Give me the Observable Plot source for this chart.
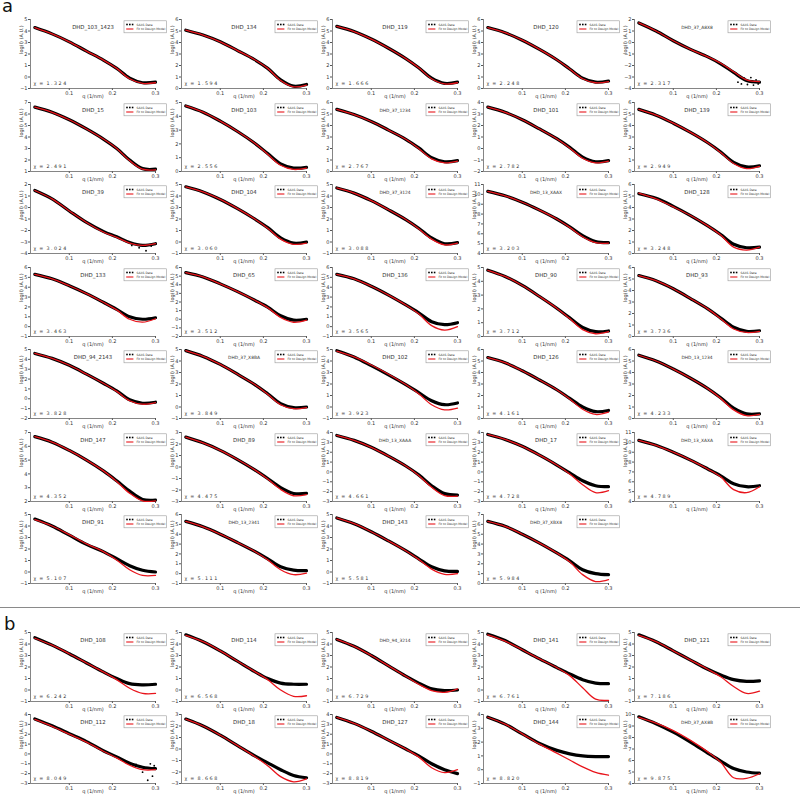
<!DOCTYPE html>
<html><head><meta charset="utf-8">
<script src="https://cdn.jsdelivr.net/npm/d3@7"></script>
<script src="https://cdn.jsdelivr.net/npm/@observablehq/plot@0.6"></script>
<style>
body{margin:0;background:#fff;font-family:"DejaVu Sans",sans-serif;}
#root{position:relative;width:800px;height:795px;overflow:hidden;background:#fff;}
.panel{position:absolute;}
.lbl{position:absolute;font-size:18px;color:#111;line-height:1;}
#sep{position:absolute;left:0;top:607px;width:800px;height:0;border-top:1.5px solid #8a8a8a;}
</style></head><body><div id="root"></div>
<script>
const qs = [0.02, 0.06, 0.1, 0.14, 0.18, 0.21, 0.24, 0.27, 0.3];
const names = [
"DHD_103_1423","DHD_134","DHD_119","DHD_120","DHD_37_A8X8",
"DHD_15","DHD_103","DHD_37_1234","DHD_101","DHD_139",
"DHD_39","DHD_104","DHD_37_3124","DHD_13_XAAX","DHD_128",
"DHD_133","DHD_65","DHD_136","DHD_90","DHD_93",
"DHD_94_2143","DHD_37_X8BA","DHD_102","DHD_126","DHD_13_1234",
"DHD_147","DHD_89","DHD_13_XAAA","DHD_17","DHD_13_XAXA",
"DHD_91","DHD_13_2341","DHD_143","DHD_37_XBX8",
"DHD_108","DHD_114","DHD_94_3214","DHD_141","DHD_121",
"DHD_112","DHD_18","DHD_127","DHD_144","DHD_37_AX8B"];
const smallTitles = ["DHD_37_A8X8","DHD_37_1234","DHD_37_3124","DHD_13_XAAX","DHD_37_X8BA","DHD_13_1234","DHD_13_XAAA","DHD_13_XAXA","DHD_13_2341","DHD_37_XBX8","DHD_94_3214","DHD_37_AX8B"];
const chis = ["1.324","1.594","1.666","2.248","2.317","2.491","2.556","2.767","2.782","2.949",
"3.024","3.060","3.088","3.203","3.248","3.463","3.512","3.565","3.712","3.736",
"3.828","3.849","3.923","4.161","4.233","4.352","4.475","4.661","4.728","4.789",
"5.107","5.111","5.581","5.984","6.242","6.568","6.729","6.761","7.186",
"8.049","8.668","8.819","8.820","9.875"];
const yMin = [-1,0,0,0,-4, 1,0,0,-2,0, -4,-1,-1,4,0, -1,-2,-1,0,0, -2,-1,-1,0,0, 2,-3,-3,-3,4, -1,-1,-1,0, -1,-1,-1,-1,-1, -3,-3,-3,-1,4];
const yMax = [5,6,6,6,2, 7,5,6,4,6, 2,5,5,11,6, 6,6,6,5,6, 5,5,5,6,6, 7,3,4,4,11, 5,6,5,7, 5,5,5,5,5, 4,3,4,4,10];
const saxs = [
[4.3,3.75,3.06,2.25,1.45,0.75,-0.1,-0.5,-0.45],
[5.07,4.65,4.06,3.3,2.5,1.75,0.75,0.2,0.35],
[5.4,4.95,4.3,3.5,2.6,1.8,0.9,0.45,0.55],
[5.3,4.85,4.2,3.4,2.5,1.7,0.9,0.55,0.65],
[1.7,1.0,0.15,-0.6,-1.25,-1.85,-2.6,-3.3,-3.45],
[6.6,6.15,5.5,4.7,3.8,3.0,2.0,1.25,1.2],
[4.75,4.3,3.65,2.9,2.05,1.3,0.55,0.25,0.3],
[5.4,4.95,4.35,3.6,2.8,2.05,1.2,0.85,0.95],
[3.6,3.15,2.5,1.7,0.85,0.1,-0.75,-1.15,-1.05],
[5.4,4.9,4.2,3.4,2.5,1.7,0.8,0.4,0.5],
[1.48,0.75,-0.3,-1.3,-2.1,-2.55,-3.05,-3.3,-3.15],
[4.8,4.35,3.7,2.9,2.0,1.25,0.35,-0.1,0.0],
[4.7,4.25,3.6,2.8,1.95,1.2,0.35,-0.15,-0.05],
[10.3,9.85,9.2,8.4,7.5,6.7,5.8,5.2,5.1],
[5.2,4.8,4.1,3.3,2.4,1.65,0.8,0.5,0.55],
[5.3,4.85,4.15,3.35,2.45,1.75,1.0,0.75,0.9],
[5.4,4.9,4.1,3.2,2.2,1.4,0.4,-0.1,0.0],
[5.3,4.85,4.1,3.2,2.2,1.4,0.5,0.2,0.4],
[4.8,4.35,3.7,2.9,2.05,1.35,0.65,0.35,0.4],
[5.3,4.85,4.15,3.3,2.4,1.6,0.8,0.45,0.5],
[4.6,4.1,3.4,2.5,1.55,0.8,-0.1,-0.45,-0.35],
[4.9,4.4,3.7,2.85,1.95,1.15,0.3,-0.05,0.0],
[4.9,4.35,3.6,2.8,1.95,1.25,0.55,0.2,0.35],
[5.3,4.85,4.15,3.35,2.5,1.75,1.0,0.6,0.7],
[5.5,5.0,4.3,3.5,2.6,1.8,0.9,0.4,0.4],
[6.7,6.3,5.7,5.0,4.2,3.5,2.75,2.15,2.1],
[2.6,2.1,1.45,0.65,-0.25,-1.0,-1.8,-2.3,-2.3],
[3.7,3.2,2.5,1.6,0.6,-0.3,-1.4,-2.2,-2.35],
[3.8,3.3,2.6,1.7,0.7,-0.1,-0.9,-1.4,-1.5],
[10.2,9.7,9.0,8.2,7.3,6.6,5.8,5.5,5.6],
[4.6,4.0,3.2,2.4,1.75,1.15,0.55,0.15,0.0],
[5.3,4.75,4.0,3.15,2.25,1.5,0.7,0.35,0.3],
[4.7,4.2,3.5,2.7,1.85,1.15,0.45,0.1,0.05],
[6.3,5.8,5.0,4.1,3.1,2.3,1.4,1.0,0.9],
[4.55,3.9,3.15,2.35,1.55,1.0,0.55,0.45,0.5],
[4.8,4.2,3.4,2.5,1.6,1.0,0.6,0.5,0.5],
[4.4,3.8,3.0,2.1,1.2,0.6,0.1,-0.05,0.0],
[4.85,4.3,3.5,2.7,1.95,1.4,0.9,0.6,0.55],
[4.8,4.2,3.4,2.6,1.8,1.3,0.9,0.75,0.8],
[3.55,2.85,2.05,1.25,0.3,-0.3,-0.95,-1.35,-1.5],
[2.6,2.0,1.2,0.3,-0.6,-1.2,-1.8,-2.3,-2.5],
[3.7,3.1,2.3,1.4,0.5,-0.2,-1.0,-1.6,-2.0],
[3.8,3.3,2.6,1.9,1.4,1.15,1.0,0.95,0.95],
[9.8,9.2,8.47,7.6,6.65,5.95,5.3,5.0,4.9]];
const fit = [
[4.3,3.75,3.06,2.25,1.45,0.75,-0.15,-0.55,-0.5],
[5.07,4.65,4.06,3.3,2.5,1.75,0.7,0.15,0.3],
[5.4,4.95,4.3,3.5,2.6,1.8,0.85,0.4,0.5],
[5.3,4.85,4.2,3.4,2.5,1.7,0.85,0.5,0.6],
[1.7,1.0,0.15,-0.6,-1.25,-1.8,-2.55,-3.25,-3.4],
[6.6,6.15,5.5,4.7,3.8,3.0,1.95,1.2,1.15],
[4.75,4.3,3.65,2.9,2.05,1.25,0.45,0.15,0.25],
[5.4,4.95,4.35,3.6,2.8,2.0,1.1,0.75,0.9],
[3.6,3.15,2.5,1.7,0.85,0.05,-0.85,-1.25,-1.1],
[5.4,4.9,4.2,3.4,2.5,1.65,0.7,0.25,0.45],
[1.48,0.75,-0.3,-1.3,-2.15,-2.6,-3.1,-3.3,-3.15],
[4.8,4.35,3.7,2.9,2.0,1.2,0.25,-0.2,-0.1],
[4.7,4.25,3.6,2.8,1.95,1.15,0.25,-0.25,-0.1],
[10.3,9.85,9.2,8.4,7.5,6.65,5.7,5.1,5.05],
[5.25,4.75,4.05,3.3,2.4,1.6,0.55,0.3,0.55],
[5.3,4.85,4.15,3.35,2.45,1.7,0.75,0.45,0.8],
[5.4,4.9,4.1,3.2,2.2,1.35,0.2,-0.35,-0.1],
[5.3,4.85,4.1,3.2,2.2,1.3,0.1,-0.35,0.0],
[4.8,4.35,3.7,2.9,2.05,1.3,0.5,0.2,0.35],
[5.3,4.85,4.15,3.3,2.4,1.55,0.65,0.35,0.45],
[4.6,4.1,3.4,2.5,1.55,0.75,-0.2,-0.55,-0.4],
[4.9,4.4,3.7,2.85,1.95,1.1,0.2,-0.15,-0.05],
[4.85,4.35,3.65,2.85,1.95,1.15,0.2,-0.25,-0.1],
[5.3,4.85,4.15,3.35,2.5,1.7,0.8,0.35,0.55],
[5.5,5.0,4.3,3.5,2.6,1.75,0.75,0.25,0.35],
[6.7,6.3,5.7,5.0,4.2,3.45,2.6,2.05,2.05],
[2.6,2.1,1.45,0.65,-0.25,-1.05,-1.95,-2.5,-2.4],
[3.7,3.2,2.5,1.6,0.6,-0.35,-1.55,-2.4,-2.45],
[3.8,3.3,2.6,1.7,0.7,-0.2,-1.3,-2.1,-1.9],
[10.2,9.7,9.0,8.2,7.3,6.5,5.2,4.9,5.5],
[4.55,4.0,3.25,2.45,1.75,1.05,0.2,-0.3,-0.3],
[5.3,4.75,4.0,3.15,2.25,1.4,0.4,-0.1,0.05],
[4.7,4.2,3.5,2.7,1.85,1.1,0.25,-0.2,-0.15],
[6.3,5.8,5.0,4.1,3.1,2.2,0.9,0.2,0.4],
[4.5,3.9,3.15,2.35,1.55,0.9,0.15,-0.3,-0.3],
[4.75,4.2,3.4,2.5,1.6,0.9,0.0,-0.55,-0.5],
[4.4,3.8,3.0,2.1,1.2,0.5,-0.05,-0.2,0.1],
[4.8,4.25,3.5,2.7,1.95,1.25,0.2,-0.8,-0.9],
[4.75,4.2,3.4,2.6,1.8,1.15,0.3,-0.3,-0.1],
[3.5,2.8,2.0,1.2,0.25,-0.4,-1.15,-1.6,-1.6],
[2.6,2.0,1.2,0.3,-0.65,-1.45,-2.4,-2.85,-2.6],
[3.7,3.1,2.3,1.4,0.5,-0.3,-1.4,-1.9,-1.6],
[3.8,3.3,2.6,1.85,1.2,0.7,0.2,-0.2,-0.4],
[9.75,9.25,8.6,7.75,6.75,5.85,4.5,4.45,4.85]];
// scattered noisy data points read in the tails: [panel, q, logI]
const noisePanel = [4,4,4,4,4,4,4,4, 10,10,10,10,10, 39,39,39,39,39,39];
const noiseQ =     [0.25,0.258,0.265,0.272,0.28,0.286,0.292,0.297, 0.22,0.245,0.262,0.278,0.29, 0.255,0.27,0.282,0.288,0.293,0.297];
const noiseY =     [-3.45,-3.6,-3.1,-3.65,-3.05,-3.7,-3.25,-3.6, -2.75,-3.3,-3.5,-3.76,-3.35, -1.05,-1.85,-2.67,-1.0,-2.26,-1.2];

const root = document.getElementById("root");
const FONT = "DejaVu Sans, sans-serif";

function panelPos(i) {
  if (i < 34) return {L: 30 + 151 * (i % 5), T: 19 + 82.5 * Math.floor(i / 5)};
  const j = i - 34;
  return {L: 30 + 151 * (j % 5), T: 632 + 82 * Math.floor(j / 5)};
}

names.forEach((name, i) => {
  const {L, T} = panelPos(i);
  const rows = qs.map((q, k) => ({q, data: saxs[i][k], fit: fit[i][k]}));
  const noise = noisePanel.map((p, k) => ({p, q: noiseQ[k], y: noiseY[k]})).filter(d => d.p === i);
  const chiText = ("χ = " + chis[i]).split("").join(" ").replace(/ {3}/g, "  ");
  const plot = Plot.plot({
    width: 169, height: 100,
    marginLeft: 30, marginRight: 14, marginTop: 4, marginBottom: 27,
    style: {fontFamily: FONT, fontSize: "5px", color: "#333", background: "transparent", overflow: "visible"},
    x: {domain: [0.01, 0.3]},
    y: {domain: [yMin[i], yMax[i]]},
    marks: [
      Plot.axisX({ticks: [0.1, 0.2, 0.3], tickFormat: d => d.toFixed(1), tickSize: 2, tickPadding: 1, label: null, stroke: "#555"}),
      Plot.axisY({ticks: d3.range(yMin[i], yMax[i] + 1), tickFormat: d => d < 0 ? "\u2212" + Math.abs(d) : d, tickSize: 2, tickPadding: 1, label: null, stroke: "#555"}),
      Plot.ruleX([0.01], {stroke: "#666", strokeWidth: 0.8}),
      Plot.ruleY([yMin[i]], {stroke: "#666", strokeWidth: 0.8}),
      Plot.dot(noise, {x: "q", y: "y", r: 0.9, fill: "black", stroke: "none"}),
      Plot.line(rows, {x: "q", y: "data", stroke: "black", strokeWidth: 3.2, curve: "catmull-rom"}),
      Plot.line(rows, {x: "q", y: "fit", stroke: "#e8141b", strokeWidth: 1.3, curve: "catmull-rom"}),
      Plot.text([name], {frameAnchor: "top", dy: 6, fontSize: smallTitles.includes(name) ? 4.4 : 5.4, fill: "#333"}),
      Plot.text([chiText], {frameAnchor: "bottom-left", dx: 3, dy: -4, textAnchor: "start", fontSize: 4.8, fill: "#333"}),
      Plot.text(["q (1/nm)"], {frameAnchor: "bottom", dy: 9, fontSize: 5, fill: "#333"}),
      Plot.text(["log(I) (A.U.)"], {frameAnchor: "left", dx: -9, rotate: -90, fontSize: 5, fill: "#333"})
    ]
  });
  // legend box (top right)
  const svg = d3.select(plot);
  const g = svg.append("g").attr("font-family", FONT).attr("text-anchor", "start");
  const lx = 124, ly = 5.8;
  g.append("rect").attr("x", lx).attr("y", ly).attr("width", 42.5).attr("height", 12)
    .attr("fill", "white").attr("stroke", "#999").attr("stroke-width", 0.6);
  [lx + 3, lx + 5.8, lx + 8.6].forEach(cx => g.append("rect").attr("x", cx - 0.8).attr("y", ly + 2.9).attr("width", 1.6).attr("height", 1.6).attr("fill", "black"));
  g.append("line").attr("x1", lx + 2.2).attr("x2", lx + 9.4).attr("y1", ly + 8.2).attr("y2", ly + 8.2)
    .attr("stroke", "#e8141b").attr("stroke-width", 1.1);
  g.append("text").attr("x", lx + 12.5).attr("y", ly + 4.9).attr("font-size", 3).attr("fill", "#333").attr("text-anchor", "start").text("SAXS Data");
  g.append("text").attr("x", lx + 12.5).attr("y", ly + 9.3).attr("font-size", 3).attr("fill", "#333").attr("text-anchor", "start").text("Fit to Design Model");
  const div = document.createElement("div");
  div.className = "panel";
  div.style.left = (L - 30) + "px";
  div.style.top = (T - 4) + "px";
  div.appendChild(plot);
  root.appendChild(div);
});

const a = document.createElement("div"); a.className = "lbl"; a.textContent = "a"; a.style.left = "2px"; a.style.top = "-3px"; root.appendChild(a);
const b = document.createElement("div"); b.className = "lbl"; b.textContent = "b"; b.style.left = "4px"; b.style.top = "615px"; root.appendChild(b);
const sep = document.createElement("div"); sep.id = "sep"; root.appendChild(sep);
</script></body></html>
